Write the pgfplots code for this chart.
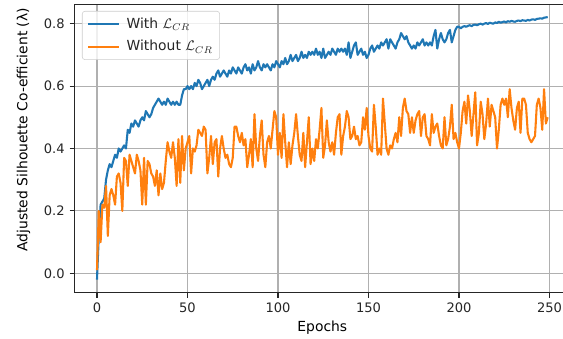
\documentclass[border=0pt]{standalone}
\usepackage{fontspec}
\setmainfont{DejaVu Sans}
\usepackage{pgfplots}
\usepackage{pgfplotstable}
\pgfplotsset{compat=1.18}
\definecolor{cA}{HTML}{1F77B4}
\definecolor{cB}{HTML}{FF7F0E}
\definecolor{gridc}{HTML}{B0B0B0}
\definecolor{txt}{HTML}{262626}
\definecolor{legc}{HTML}{CCCCCC}
\pgfplotstableread{
x a b
0 -0.02 0.01
1 0.12 0.20
2 0.22 0.10
3 0.23 0.22
4 0.24 0.21
5 0.30 0.28
6 0.33 0.12
7 0.35 0.25
8 0.34 0.27
9 0.36 0.25
10 0.38 0.22
11 0.37 0.31
12 0.40 0.32
13 0.39 0.29
14 0.40 0.20
15 0.41 0.37
16 0.40 0.36
17 0.46 0.28
18 0.45 0.38
19 0.48 0.36
20 0.47 0.34
21 0.49 0.32
22 0.48 0.38
23 0.47 0.36
24 0.49 0.33
25 0.50 0.22
26 0.49 0.37
27 0.52 0.22
28 0.51 0.36
29 0.50 0.35
30 0.51 0.32
31 0.53 0.31
32 0.54 0.28
33 0.55 0.33
34 0.56 0.25
35 0.55 0.32
36 0.54 0.27
37 0.55 0.29
38 0.54 0.36
39 0.56 0.42
40 0.55 0.39
41 0.54 0.37
42 0.55 0.42
43 0.54 0.37
44 0.55 0.28
45 0.54 0.43
46 0.54 0.29
47 0.57 0.44
48 0.59 0.33
49 0.59 0.40
50 0.60 0.42
51 0.59 0.44
52 0.60 0.32
53 0.59 0.40
54 0.61 0.39
55 0.60 0.41
56 0.62 0.46
57 0.61 0.45
58 0.59 0.44
59 0.60 0.47
60 0.61 0.46
61 0.62 0.32
62 0.60 0.37
63 0.62 0.44
64 0.63 0.35
65 0.62 0.42
66 0.64 0.43
67 0.65 0.31
68 0.63 0.40
69 0.64 0.44
70 0.65 0.40
71 0.64 0.37
72 0.63 0.38
73 0.65 0.35
74 0.64 0.34
75 0.66 0.37
76 0.65 0.47
77 0.64 0.47
78 0.66 0.44
79 0.65 0.42
80 0.64 0.45
81 0.66 0.41
82 0.67 0.43
83 0.65 0.34
84 0.66 0.38
85 0.64 0.43
86 0.67 0.34
87 0.65 0.51
88 0.66 0.40
89 0.68 0.36
90 0.66 0.44
91 0.65 0.49
92 0.67 0.38
93 0.66 0.34
94 0.67 0.42
95 0.66 0.44
96 0.65 0.40
97 0.67 0.46
98 0.66 0.52
99 0.68 0.50
100 0.67 0.38
101 0.66 0.45
102 0.68 0.37
103 0.67 0.51
104 0.69 0.42
105 0.67 0.34
106 0.68 0.42
107 0.70 0.35
108 0.68 0.41
109 0.69 0.45
110 0.70 0.51
111 0.68 0.44
112 0.69 0.38
113 0.71 0.36
114 0.69 0.45
115 0.70 0.34
116 0.69 0.42
117 0.71 0.50
118 0.70 0.35
119 0.71 0.40
120 0.70 0.36
121 0.72 0.43
122 0.70 0.40
123 0.71 0.46
124 0.69 0.53
125 0.72 0.37
126 0.69 0.41
127 0.70 0.49
128 0.71 0.42
129 0.70 0.39
130 0.72 0.42
131 0.71 0.38
132 0.70 0.45
133 0.72 0.50
134 0.71 0.51
135 0.72 0.38
136 0.71 0.44
137 0.72 0.47
138 0.70 0.52
139 0.74 0.50
140 0.69 0.43
141 0.71 0.44
142 0.73 0.47
143 0.74 0.43
144 0.70 0.44
145 0.71 0.41
146 0.72 0.42
147 0.70 0.50
148 0.71 0.46
149 0.69 0.53
150 0.70 0.44
151 0.72 0.40
152 0.73 0.39
153 0.71 0.54
154 0.72 0.47
155 0.73 0.38
156 0.72 0.40
157 0.74 0.38
158 0.73 0.56
159 0.74 0.48
160 0.75 0.40
161 0.72 0.38
162 0.75 0.41
163 0.74 0.40
164 0.73 0.43
165 0.72 0.45
166 0.74 0.42
167 0.75 0.50
168 0.77 0.44
169 0.76 0.53
170 0.75 0.56
171 0.76 0.52
172 0.74 0.51
173 0.73 0.45
174 0.72 0.50
175 0.73 0.45
176 0.72 0.49
177 0.74 0.51
178 0.73 0.52
179 0.74 0.44
180 0.75 0.50
181 0.73 0.51
182 0.74 0.44
183 0.73 0.43
184 0.74 0.41
185 0.73 0.51
186 0.76 0.45
187 0.78 0.47
188 0.72 0.48
189 0.75 0.44
190 0.77 0.41
191 0.75 0.40
192 0.74 0.50
193 0.75 0.41
194 0.77 0.43
195 0.78 0.47
196 0.74 0.54
197 0.76 0.43
198 0.78 0.45
199 0.79 0.42
200 0.79 0.40
201 0.785 0.45
202 0.79 0.52
203 0.792 0.55
204 0.79 0.48
205 0.793 0.57
206 0.795 0.52
207 0.792 0.44
208 0.796 0.51
209 0.797 0.58
210 0.795 0.41
211 0.798 0.45
212 0.80 0.55
213 0.797 0.51
214 0.80 0.43
215 0.802 0.48
216 0.799 0.56
217 0.803 0.47
218 0.801 0.54
219 0.80 0.52
220 0.804 0.50
221 0.802 0.40
222 0.806 0.46
223 0.803 0.54
224 0.805 0.56
225 0.807 0.54
226 0.804 0.56
227 0.808 0.50
228 0.806 0.59
229 0.809 0.53
230 0.807 0.49
231 0.806 0.46
232 0.809 0.53
233 0.81 0.55
234 0.808 0.45
235 0.811 0.56
236 0.81 0.56
237 0.809 0.54
238 0.812 0.45
239 0.81 0.43
240 0.813 0.42
241 0.814 0.43
242 0.812 0.44
243 0.815 0.54
244 0.816 0.56
245 0.817 0.53
246 0.816 0.46
247 0.819 0.59
248 0.82 0.48
249 0.821 0.50
}\datatable
\begin{document}
\begin{tikzpicture}
\begin{axis}[
  name=ax,
  scale only axis,
  width=356.9pt, height=207.6pt,
  xmin=-12.45, xmax=261.45,
  ymin=-0.062, ymax=0.862,
  xtick={0,50,100,150,200,250},
  ytick={0,0.2,0.4,0.6,0.8},
  yticklabel style={/pgf/number format/.cd,fixed,fixed zerofill,precision=1},
  /pgf/number format/assume math mode=true,
  tick label style={font=\fontsize{9.4}{11}\selectfont, text=txt},
  tick align=outside,
  major tick length=3.5pt,
  tick style={black!85, line width=0.8pt},
  xtick pos=bottom, ytick pos=left,
  grid=major,
  major grid style={gridc, line width=0.8pt},
  axis line style={black!85, line width=0.8pt},
  xlabel={Epochs},
  ylabel={Adjusted Silhouette Co-efficient (λ)},
  xlabel style={font=\fontsize{9.4}{11}\selectfont, text=txt},
  ylabel style={font=\fontsize{9}{11}\selectfont, text=txt},
  every axis y label/.style={at={(axis description cs:0,0.565)}, xshift=-36.7pt, rotate=90, anchor=center},
  every axis x label/.style={at={(axis description cs:0.5,0)}, anchor=north, yshift=-17pt},
  legend style={at={(0,1)}, anchor=north west, xshift=5.4pt, yshift=-4.8pt,
    draw=legc, rounded corners=2pt, fill=white, fill opacity=0.8, text opacity=1,
    font=\fontsize{10}{12}\selectfont, text=txt, inner xsep=3.5pt, inner ysep=3.2pt,
    row sep=4.2pt, column sep=3pt, nodes={inner sep=1.5pt}},
  legend cell align=left,
  legend image code/.code={\draw[#1, line width=1.5pt] (0pt,0pt) -- (22.5pt,0pt);},
]
\addplot[cA, line width=1.5pt, line join=round] table[x=x, y=a] {\datatable};
\addlegendentry{With $\mathcal{L}_{CR}$}
\addplot[cB, line width=1.5pt, line join=round] table[x=x, y=b] {\datatable};
\addlegendentry{Without $\mathcal{L}_{CR}$}
\end{axis}
\pgfresetboundingbox
\path[use as bounding box] ([shift={(-53.6pt,-33.3pt)}]ax.south west) rectangle ([shift={(351.7pt,3.1pt)}]ax.north west);
\end{tikzpicture}
\end{document}
